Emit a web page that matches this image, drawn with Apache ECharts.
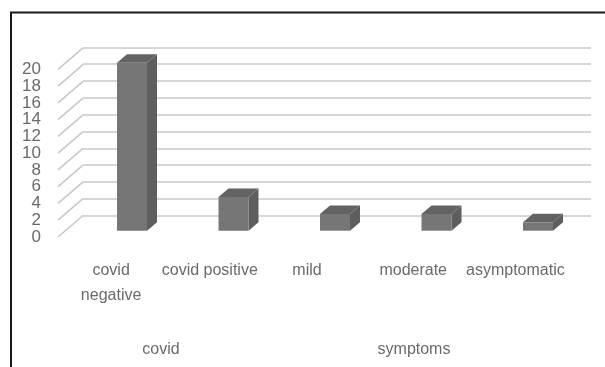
<!DOCTYPE html>
<html>
<head>
<meta charset="utf-8">
<style>
  html, body { margin: 0; background: #fff; }
  #chart { width: 605px; height: 367px; filter: blur(0.4px); }
</style>
<script src="https://cdn.jsdelivr.net/npm/echarts@6/dist/echarts.min.js"></script>
</head>
<body>
<div id="chart"></div>
<script>
const categories = ['covid\nnegative', 'covid positive', 'mild', 'moderate', 'asymptomatic'];
const values = [20, 4, 2, 2, 1];
const groups = ['covid', 'symptoms'];
const yTicks = [0, 2, 4, 6, 8, 10, 12, 14, 16, 18, 20];

const TEXT_COLOR = '#6a6a6a';
const FONT = '"Liberation Sans", sans-serif';
const WALL_DX = 25;
const WALL_DY = -21.5;
const BAR_DX = 10;
const BAR_DY = -8.5;
const BAR_WIDTH = 30;
const TICK_LABEL_GAP = 17;

// small nudges, the original labels are not evenly spaced
const labelShift = [-0.5, -2, -5, 1, 3];

const hiddenAxis = (gridIndex, extra) => ({
  gridIndex,
  show: false,
  ...extra,
});

const chart = echarts.init(document.getElementById('chart'));

const renderBar = (params, api) => {
  const x = api.coord([api.value(0), 0])[0] - BAR_WIDTH / 2;
  const bottom = api.coord([api.value(0), 0])[1];
  const top = api.coord([api.value(0), api.value(1)])[1];
  const right = x + BAR_WIDTH;
  return {
    type: 'group',
    children: [
      {
        type: 'polygon',
        shape: { points: [[right, bottom], [right + BAR_DX, bottom + BAR_DY], [right + BAR_DX, top + BAR_DY], [right, top]] },
        style: { fill: '#5e5e5e' },
      },
      {
        type: 'polygon',
        shape: { points: [[x, top], [x + BAR_DX, top + BAR_DY], [right + BAR_DX, top + BAR_DY], [right, top]] },
        style: { fill: '#636363' },
      },
      {
        type: 'rect',
        shape: { x, y: top, width: BAR_WIDTH, height: bottom - top },
        style: { fill: '#767676' },
      },
    ],
  };
};

// the side wall line and its tick label, axis labels drop some ticks at this spacing
const renderDiagonal = (params, api) => {
  const start = api.coord([0, api.value(0)]);
  return {
    type: 'group',
    children: [
      {
        type: 'line',
        shape: { x1: start[0], y1: start[1], x2: start[0] + WALL_DX, y2: start[1] + WALL_DY },
        style: { stroke: '#c8c8c8', lineWidth: 1.6 },
      },
      {
        type: 'text',
        x: start[0] - TICK_LABEL_GAP,
        y: start[1],
        style: {
          text: String(api.value(0)),
          align: 'right',
          verticalAlign: 'middle',
          font: `17px ${FONT}`,
          fill: TEXT_COLOR,
        },
      },
    ],
  };
};

chart.setOption({
  animation: false,
  backgroundColor: '#fff',
  textStyle: { fontFamily: FONT },
  graphic: [
    {
      type: 'polyline',
      shape: { points: [[11, 367], [11, 12.5], [605, 12.5]] },
      style: { stroke: '#1a1a1a', fill: null, lineWidth: 2 },
    },
  ],
  grid: [
    // back wall
    { left: 83, width: 508, top: 47.3, height: 168.4 },
    // front edge with the value labels
    { left: 58, width: 25, top: 69.3, height: 167.7 },
    // bars
    { left: 81.25, width: 507.5, top: 62.7, height: 168 },
    // category labels
    { left: 61.5, width: 501, top: 62.7, height: 195 },
    // group labels
    { left: 34.5, width: 506, top: 62.7, height: 277 },
  ],
  xAxis: [
    hiddenAxis(0, { type: 'value' }),
    hiddenAxis(1, { type: 'value', min: 0, max: 1 }),
    hiddenAxis(2, { type: 'category', data: categories }),
    {
      gridIndex: 3,
      type: 'category',
      data: categories.map((value, i) => ({
        value,
        textStyle: labelShift[i] > 0
          ? { padding: [0, 0, 0, labelShift[i] * 2] }
          : { padding: [0, -labelShift[i] * 2, 0, 0] },
      })),
      axisLine: { show: false },
      axisTick: { show: false },
      axisLabel: { interval: 0, margin: 0, fontSize: 16, lineHeight: 25, color: TEXT_COLOR, fontFamily: FONT },
    },
    {
      gridIndex: 4,
      type: 'category',
      data: groups,
      axisLine: { show: false },
      axisTick: { show: false },
      axisLabel: { interval: 0, margin: 0, fontSize: 16, lineHeight: 20, color: TEXT_COLOR, fontFamily: FONT },
    },
  ],
  yAxis: [
    {
      gridIndex: 0,
      type: 'value',
      min: 0,
      max: 20,
      interval: 2,
      axisLabel: { show: false },
      axisLine: { show: false },
      axisTick: { show: false },
      splitLine: { show: true, lineStyle: { color: '#c8c8c8', width: 1.6 } },
    },
    hiddenAxis(1, { type: 'value', min: 0, max: 20, interval: 2 }),
    hiddenAxis(2, { type: 'value', min: 0, max: 20 }),
    hiddenAxis(3, { type: 'value' }),
    hiddenAxis(4, { type: 'value' }),
  ],
  series: [
    {
      type: 'custom',
      xAxisIndex: 1,
      yAxisIndex: 1,
      data: yTicks.map((tick) => [tick]),
      encode: { y: 0 },
      renderItem: renderDiagonal,
      silent: true,
    },
    {
      type: 'custom',
      xAxisIndex: 2,
      yAxisIndex: 2,
      data: values.map((value, i) => [i, value]),
      encode: { x: 0, y: 1 },
      renderItem: renderBar,
      z: 5,
    },
  ],
});
</script>
</body>
</html>
